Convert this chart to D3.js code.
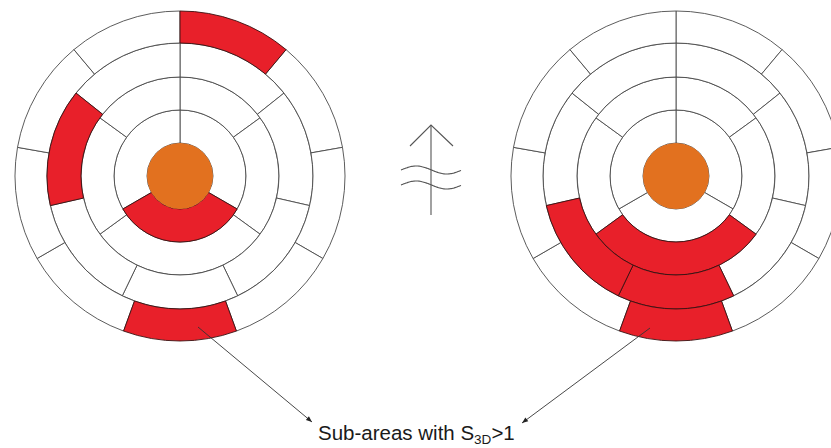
<!DOCTYPE html>
<html>
<head>
<meta charset="utf-8">
<script src="https://cdn.jsdelivr.net/npm/d3@7"></script>
<style>
  html, body { margin: 0; padding: 0; background: #fff; }
  svg { display: block; }
</style>
</head>
<body>
<div class="chart"></div>
<script>
// ring radii (inner core, then outer edge of each ring)
var radii = [33, 66, 99, 133, 165];

// sector boundaries for each ring, degrees clockwise from 12 o'clock
var ringBounds = [
    [0, 120, 240],
    [0, 54, 126, 234, 306],
    [0, 51.43, 102.86, 154.29, 205.71, 257.14, 308.57],
    [0, 40, 80, 120, 160, 200, 240, 280, 320]
];

// highlighted sub-areas (ring index, start, end)
var leftRed = [
    {ring: 0, from: 120, to: 240},
    {ring: 2, from: 257.14, to: 308.57},
    {ring: 3, from: 0, to: 40},
    {ring: 3, from: 160, to: 200}
];
var rightRed = [
    {ring: 1, from: 126, to: 234},
    {ring: 2, from: 154.29, to: 205.71},
    {ring: 2, from: 205.71, to: 257.14},
    {ring: 3, from: 160, to: 200}
];

var labelText = "Sub-areas with S";
var labelSub = "3D";
var labelTail = ">1";

var width = 831, height = 448;
var red = "#e8202a", orange = "#e2711f", lineCol = "#4a4a4a";

var svg = d3.select(".chart").append("svg")
    .attr("width", width)
    .attr("height", height);

svg.append("defs").append("marker")
    .attr("id", "head")
    .attr("viewBox", "0 0 10 10")
    .attr("refX", 10).attr("refY", 5)
    .attr("markerWidth", 9).attr("markerHeight", 6)
    .attr("markerUnits", "userSpaceOnUse")
    .attr("orient", "auto")
  .append("path")
    .attr("d", "M0,1 L10,5 L0,9 Z")
    .attr("fill", "#222");

var deg = Math.PI / 180;
var arc = d3.arc();

function isRed(list, ring, a0) {
    return list.some(function (d) { return d.ring === ring && Math.abs(d.from - a0) < 0.5; });
}

function drawTarget(cx, cy, redList) {
    var g = svg.append("g").attr("transform", "translate(" + cx + "," + cy + ")");

    var cells = [];
    ringBounds.forEach(function (b, i) {
        b.forEach(function (a0, j) {
            var a1 = j + 1 < b.length ? b[j + 1] : 360;
            cells.push({ring: i, a0: a0, a1: a1, red: isRed(redList, i, a0)});
        });
    });

    // white cells first, red cells on top so their outlines stay visible
    cells.sort(function (a, b) { return a.red - b.red; });

    g.selectAll("path.cell")
        .data(cells)
        .enter().append("path")
        .attr("class", "cell")
        .attr("d", function (d) {
            return arc({
                innerRadius: radii[d.ring],
                outerRadius: radii[d.ring + 1],
                startAngle: d.a0 * deg,
                endAngle: d.a1 * deg
            });
        })
        .attr("fill", function (d) { return d.red ? red : "#fff"; })
        .attr("stroke", function (d) { return d.red ? "#3a1010" : lineCol; })
        .attr("stroke-width", 0.9);

    g.append("circle")
        .attr("r", radii[0])
        .attr("fill", orange);
}

drawTarget(180, 176, leftRed);
drawTarget(676, 176, rightRed);

// centre symbol: arrow with two waves
var sym = svg.append("g").attr("stroke", "#555").attr("fill", "none").attr("stroke-width", 1.1);
sym.append("line").attr("x1", 431).attr("y1", 125).attr("x2", 431).attr("y2", 215);
sym.append("path").attr("d", d3.line()([[410, 146], [431, 125], [453, 146]]));
var wx = d3.range(0, 61, 1);
[170, 185].forEach(function (y0) {
    sym.append("path")
        .attr("d", d3.line().curve(d3.curveBasis)(wx.map(function (t) {
            return [401 + t, y0 - 4 * Math.sin(2 * Math.PI * t / 61)];
        })));
});

// leader arrows
var leaders = [
    {x1: 198, y1: 327, x2: 312, y2: 422},
    {x1: 650, y1: 328, x2: 522, y2: 423}
];
svg.selectAll("line.leader")
    .data(leaders)
    .enter().append("line")
    .attr("class", "leader")
    .attr("x1", function (d) { return d.x1; })
    .attr("y1", function (d) { return d.y1; })
    .attr("x2", function (d) { return d.x2; })
    .attr("y2", function (d) { return d.y2; })
    .attr("stroke", "#333")
    .attr("stroke-width", 0.9)
    .attr("marker-end", "url(#head)");

var label = svg.append("text")
    .attr("x", 318).attr("y", 440)
    .attr("font-family", "Liberation Sans, Arial, sans-serif")
    .attr("font-size", 20.5)
    .attr("fill", "#1a1a1a");
label.append("tspan").text(labelText);
label.append("tspan").attr("font-size", 13.5).attr("dy", 4).text(labelSub);
label.append("tspan").attr("dy", -4).text(labelTail);
</script>
</body>
</html>
